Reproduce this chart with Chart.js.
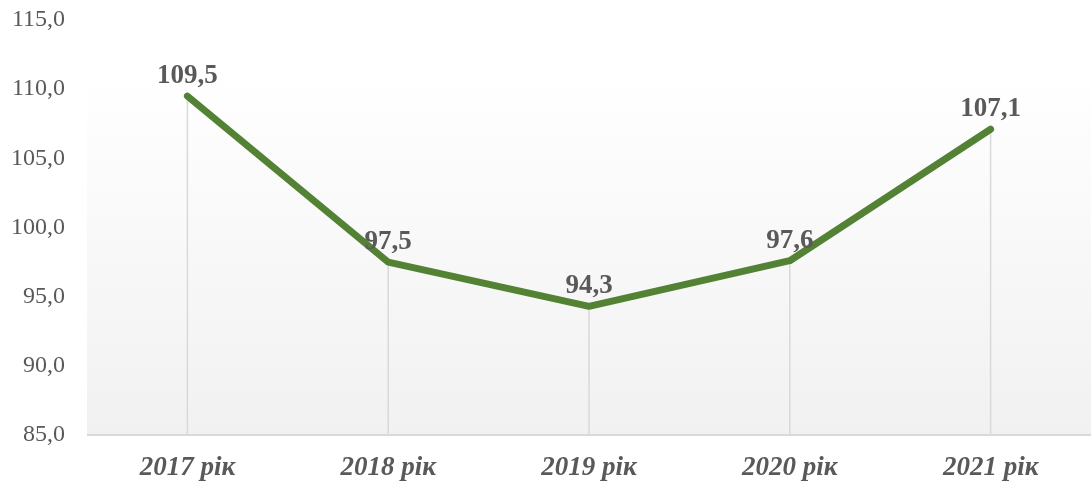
<!DOCTYPE html>
<html>
<head>
<meta charset="utf-8">
<script src="https://cdn.jsdelivr.net/npm/chart.js@4/dist/chart.umd.min.js"></script>
<style>
  html, body { margin: 0; padding: 0; background: #fff; }
  #wrap { width: 1091px; height: 481px; }
</style>
</head>
<body>
<div id="wrap"><canvas id="chart" width="1091" height="481"></canvas></div>
<script>
// ===== Data =====
const years = ['2017 рік', '2018 рік', '2019 рік', '2020 рік', '2021 рік'];
const values = [109.5, 97.5, 94.3, 97.6, 107.1];
const yTicks = [85, 90, 95, 100, 105, 110, 115];

const SERIF = '"Liberation Serif", "Times New Roman", serif';
const TEXT = '#595959';

function fmt(v) {
    return v.toFixed(1).replace('.', ',');
}

// soft gradient panel behind the plot (Excel style)
const panelPlugin = {
    id: 'panel',
    beforeDatasetsDraw(chart) {
        const { ctx, chartArea } = chart;
        const top = chartArea.top + 53;
        const g = ctx.createLinearGradient(0, top, 0, chartArea.bottom);
        g.addColorStop(0, '#ffffff');
        g.addColorStop(1, '#f1f1f1');
        ctx.save();
        ctx.fillStyle = g;
        ctx.fillRect(chartArea.left, top, chartArea.right - chartArea.left, chartArea.bottom - top);
        // drop lines from each point to the axis
        const meta = chart.getDatasetMeta(0);
        ctx.strokeStyle = '#d9d9d9';
        ctx.lineWidth = 1.5;
        meta.data.forEach(pt => {
            ctx.beginPath();
            ctx.moveTo(pt.x, pt.y);
            ctx.lineTo(pt.x, chartArea.bottom);
            ctx.stroke();
        });
        // bottom axis line
        ctx.lineWidth = 2;
        ctx.beginPath();
        ctx.moveTo(chartArea.left, chartArea.bottom);
        ctx.lineTo(chartArea.right, chartArea.bottom);
        ctx.stroke();
        ctx.restore();
    }
};

const labelPlugin = {
    id: 'valueLabels',
    afterDatasetsDraw(chart) {
        const { ctx } = chart;
        const meta = chart.getDatasetMeta(0);
        ctx.save();
        ctx.font = 'bold 27px ' + SERIF;
        ctx.fillStyle = TEXT;
        ctx.textAlign = 'center';
        ctx.textBaseline = 'alphabetic';
        meta.data.forEach((pt, i) => {
            ctx.fillText(fmt(values[i]), pt.x, pt.y - 13);
        });
        ctx.restore();
    }
};

const ctx = document.getElementById('chart').getContext('2d');
new Chart(ctx, {
    type: 'line',
    data: {
        labels: years,
        datasets: [{
            data: values,
            borderColor: '#548235',
            borderWidth: 7,
            borderCapStyle: 'round',
            borderJoinStyle: 'round',
            pointRadius: 0,
            tension: 0,
            fill: false
        }]
    },
    options: {
        responsive: false,
        animation: false,
        layout: { padding: { top: 0, right: 0, left: 12, bottom: 0 } },
        plugins: {
            legend: { display: false },
            tooltip: { enabled: false }
        },
        scales: {
            x: {
                offset: true,
                grid: { display: false, drawTicks: false },
                border: { display: false },
                ticks: {
                    color: TEXT,
                    padding: 17,
                    maxRotation: 0,
                    font: { family: SERIF, size: 27, weight: 'bold', style: 'italic' }
                },
                afterFit(scale) {
                    scale.height = 46;
                    scale.paddingLeft = 0;
                    scale.paddingRight = 0;
                }
            },
            y: {
                min: yTicks[0],
                max: yTicks[yTicks.length - 1],
                afterBuildTicks(scale) {
                    scale.ticks = yTicks.map(v => ({ value: v }));
                },
                grid: { display: false, drawTicks: false },
                border: { display: false },
                ticks: {
                    color: TEXT,
                    padding: 22,
                    font: { family: SERIF, size: 24 },
                    callback: v => fmt(v)
                },
                afterFit(scale) {
                    scale.width = 75;
                    scale.paddingTop = 20;
                    scale.paddingBottom = 0;
                }
            }
        }
    },
    plugins: [panelPlugin, labelPlugin]
});
</script>
</body>
</html>
